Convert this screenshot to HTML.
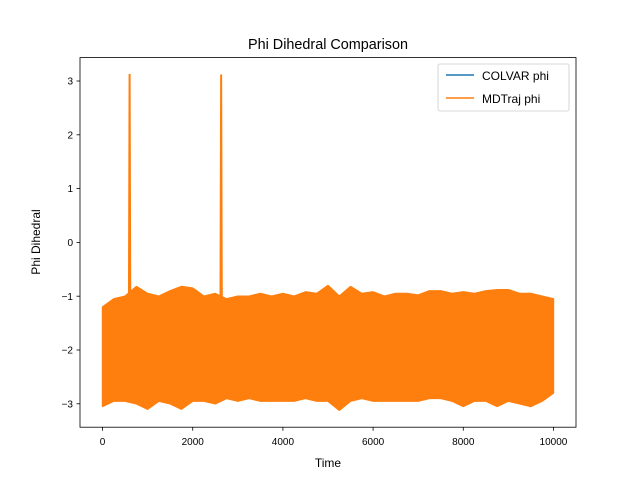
<!DOCTYPE html>
<html><head><meta charset="utf-8"><style>
body{margin:0;background:#fff;font-family:"Liberation Sans","DejaVu Sans",sans-serif}
</style></head><body>
<svg id="chart" width="640" height="480" xmlns="http://www.w3.org/2000/svg">
<rect width="640" height="480" fill="#fff"/>
<text x="328" y="49" text-anchor="middle" font-size="14.4">Phi Dihedral Comparison</text>
<g id="series"></g>
<rect x="80" y="57.6" width="496" height="369.6" fill="none" stroke="#000" stroke-width="0.8"/>
<g id="xticks"></g>
<g id="yticks"></g>
<text x="328" y="467" text-anchor="middle" font-size="12">Time</text>
<text transform="translate(40,242) rotate(-90)" text-anchor="middle" font-size="12">Phi Dihedral</text>
<g>
<rect x="438" y="64" width="131" height="47" rx="2" fill="#fff" fill-opacity="0.8" stroke="#ccc" stroke-width="0.8"/>
<line x1="446" y1="75" x2="474" y2="75" stroke="#1f77b4" stroke-width="1.5"/>
<text x="482" y="80" font-size="12">COLVAR phi</text>
<line x1="446" y1="98" x2="474" y2="98" stroke="#ff7f0e" stroke-width="1.5"/>
<text x="482" y="103" font-size="12">MDTraj phi</text>
</g>
</svg>
<script>
const binTimes=[0,250,500,750,1000,1250,1500,1750,2000,2250,2500,2750,3000,3250,3500,3750,4000,4250,4500,4750,5000,5250,5500,5750,6000,6250,6500,6750,7000,7250,7500,7750,8000,8250,8500,8750,9000,9250,9500,9750,10000];
const binHigh=[-1.2,-1.05,-1.0,-0.82,-0.95,-1.0,-0.9,-0.82,-0.85,-1.0,-0.95,-1.05,-1.0,-1.0,-0.95,-1.0,-0.95,-1.0,-0.92,-0.95,-0.8,-1.0,-0.82,-0.95,-0.92,-1.0,-0.95,-0.95,-0.98,-0.9,-0.9,-0.95,-0.92,-0.95,-0.9,-0.88,-0.88,-0.95,-0.95,-1.0,-1.05];
const binLow=[-3.05,-2.95,-2.95,-3.0,-3.1,-2.95,-3.0,-3.1,-2.95,-2.95,-3.0,-2.9,-2.95,-2.9,-2.95,-2.95,-2.95,-2.95,-2.9,-2.95,-2.95,-3.12,-2.95,-2.9,-2.95,-2.95,-2.95,-2.95,-2.95,-2.9,-2.9,-2.95,-3.05,-2.95,-2.95,-3.05,-2.95,-3.0,-3.05,-2.95,-2.8];
const spikeTimes=[600,2630];
const spikeValues=[3.13,3.12];
const xTicks=[0,2000,4000,6000,8000,10000];
const yTicks=[-3,-2,-1,0,1,2,3];
const xMin=-500,xMax=10500,yMin=-3.435,yMax=3.435;
const X=t=>80+(t-xMin)/(xMax-xMin)*496;
const Y=v=>427.2-(v-yMin)/(yMax-yMin)*369.6;
const NS="http://www.w3.org/2000/svg";
const mk=(tag,attrs,parent)=>{const e=document.createElementNS(NS,tag);for(const k in attrs)e.setAttribute(k,attrs[k]);parent.appendChild(e);return e;};
const sg=document.getElementById('series');
let pts=binTimes.map((t,i)=>X(t)+','+Y(binHigh[i]));
for(let i=binTimes.length-1;i>=0;i--)pts.push(X(binTimes[i])+','+Y(binLow[i]));
const band=mk('polygon',{points:pts.join(' '),fill:'#ff7f0e',stroke:'#ff7f0e','stroke-width':1.5,'stroke-linejoin':'bevel'},sg);


spikeTimes.forEach((t,i)=>{
const s=mk('polyline',{points:`${X(t-15)},${Y(-1.2)} ${X(t)},${Y(spikeValues[i])} ${X(t+15)},${Y(-1.2)}`,fill:'none',stroke:'#ff7f0e','stroke-width':2},sg);


});
const xg=document.getElementById('xticks');
xTicks.forEach(t=>{
const l=mk('line',{x1:X(t),x2:X(t),y1:427.2,y2:430.7,stroke:'#000','stroke-width':0.8},xg);


const tx=mk('text',{x:X(t),y:445,'text-anchor':'middle','font-size':10},xg);
tx.textContent=t;


});
const yg=document.getElementById('yticks');
yTicks.forEach(v=>{
const l=mk('line',{x1:76.5,x2:80,y1:Y(v),y2:Y(v),stroke:'#000','stroke-width':0.8},yg);


const tx=mk('text',{x:73,y:Y(v)+3.6,'text-anchor':'end','font-size':10},yg);
tx.textContent=v<0?'\u2212'+(-v):v;


});
</script>
</body></html>
